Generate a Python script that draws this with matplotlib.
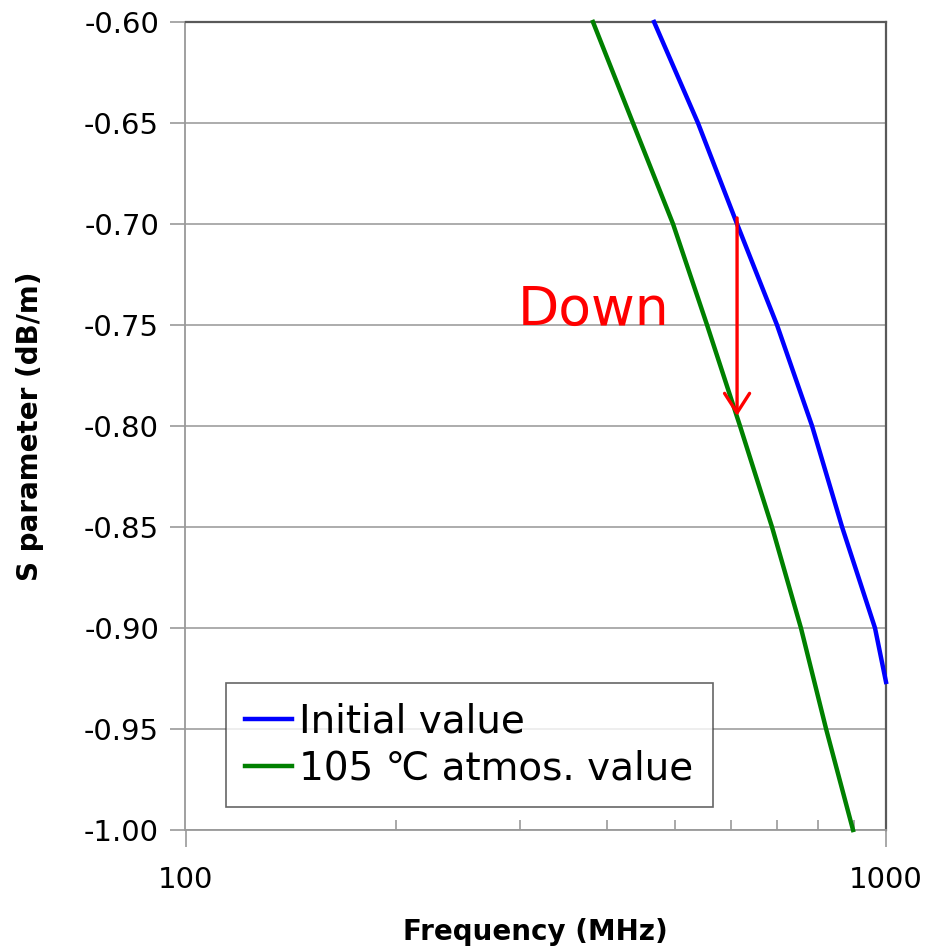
import matplotlib
matplotlib.use("Agg")
import matplotlib.pyplot as plt
from matplotlib.ticker import LogLocator, NullFormatter, FixedLocator, FixedFormatter

# Data
freq_initial = [466.6, 539.0, 612.9, 698.9, 784.3, 865.6, 964.5, 1000.0]
s_initial = [-0.60, -0.65, -0.70, -0.75, -0.80, -0.85, -0.90, -0.9267]

freq_105 = [381.7, 435.3, 496.6, 555.3, 618.9, 687.5, 756.1, 821.3, 897.3]
s_105 = [-0.60, -0.65, -0.70, -0.75, -0.80, -0.85, -0.90, -0.95, -1.00]

label_initial = "Initial value"
label_105 = "105 \u2103 atmos. value"
y_ticks = [-1.00, -0.95, -0.90, -0.85, -0.80, -0.75, -0.70, -0.65, -0.60]
x_ticks = [100, 1000]
arrow_freq = 612.9
arrow_from = -0.697
arrow_to = -0.795

plt.rcParams['font.family'] = ['DejaVu Sans']

W, H = 929, 950
fig = plt.figure(figsize=(W / 100, H / 100), dpi=100)
l, r, t, b = 185.5, 886, 22, 830
ax = fig.add_axes([l / W, 1 - b / H, (r - l) / W, (b - t) / H])

ax.set_xscale('log')
ax.set_xlim(100, 1000)
ax.set_ylim(-1.00, -0.60)

for y in y_ticks:
    ax.axhline(y, color='#a6a6a6', lw=1.3, zorder=1)

ax.plot(freq_initial, s_initial, color='#0000ff', lw=3.2, label=label_initial, zorder=3, clip_on=False)
ax.plot(freq_105, s_105, color='#008000', lw=3.2, label=label_105, zorder=3, clip_on=False)

ax.annotate('', xy=(arrow_freq, arrow_to), xytext=(arrow_freq, arrow_from),
            arrowprops=dict(arrowstyle='->,head_length=0.7,head_width=0.45', color='#ff0000',
                            lw=2.4, shrinkA=0, shrinkB=0, mutation_scale=20), zorder=4)
ax.text(0.475, 0.625, 'Down', transform=ax.transAxes, color='#ff0000', fontsize=38.5,
        ha='left', va='baseline', zorder=4)

ax.set_yticks(y_ticks)
ax.set_yticklabels([f"{v:.2f}" for v in y_ticks])
ax.xaxis.set_major_locator(FixedLocator(x_ticks))
ax.xaxis.set_major_formatter(FixedFormatter([str(v) for v in x_ticks]))
ax.xaxis.set_minor_locator(LogLocator(base=10, subs=range(2, 10)))
ax.xaxis.set_minor_formatter(NullFormatter())

ax.tick_params(axis='y', direction='out', length=11, width=1.2, color='#999999',
               labelsize=21, pad=8, labelcolor='black')
ax.tick_params(axis='x', which='major', direction='out', length=12, width=1.2, color='#999999',
               labelsize=21, pad=14)
ax.tick_params(axis='x', which='minor', direction='in', length=7, width=1.2, color='#999999')

for s in ['left', 'bottom']:
    ax.spines[s].set_color('#999999')
    ax.spines[s].set_linewidth(1.3)
for s in ['top', 'right']:
    ax.spines[s].set_color('#595959')
    ax.spines[s].set_linewidth(1.6)

ax.set_xlabel('Frequency (MHz)', fontsize=20, fontweight='bold', va='center')
ax.xaxis.set_label_coords(0.5, (830 - 932) / 808)
ax.set_ylabel('S parameter (dB/m)', fontsize=20, fontweight='bold', va='center')
ax.yaxis.set_label_coords((30 - 185.5) / 700.5, 0.5)

leg = ax.legend(loc='lower left', bbox_to_anchor=(0.0578, 0.0285), borderaxespad=0,
                fontsize=28, frameon=True, fancybox=False, handlelength=1.2,
                handletextpad=0.18, labelspacing=0.24, borderpad=0.5)
leg.get_frame().set_edgecolor('#404040')
leg.get_frame().set_linewidth(1.2)
leg.set_zorder(5)

fig.savefig('out.png', dpi=100, facecolor='white')
